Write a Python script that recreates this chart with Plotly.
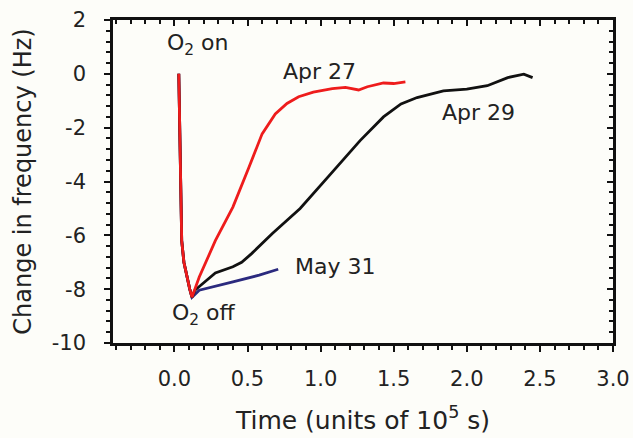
import plotly.graph_objects as go

# Shared initial drop (O2 on -> O2 off), units of 1e5 s and Hz
drop_x = [0.03, 0.035, 0.04, 0.05, 0.065, 0.087, 0.105, 0.12]
drop_y = [0.0, -1.5, -3.2, -6.2, -7.0, -7.6, -8.0, -8.3]

apr27_x = [0.17, 0.28, 0.40, 0.51, 0.60, 0.69, 0.77, 0.85, 0.95, 1.08, 1.17, 1.26, 1.32, 1.43, 1.50, 1.58]
apr27_y = [-7.55, -6.2, -4.95, -3.47, -2.23, -1.49, -1.1, -0.85, -0.68, -0.55, -0.5, -0.6, -0.48, -0.34, -0.36, -0.3]

apr29_x = [0.14, 0.28, 0.40, 0.46, 0.53, 0.67, 0.86, 1.08, 1.27, 1.43, 1.55, 1.66, 1.84, 2.0, 2.14, 2.28, 2.39, 2.45]
apr29_y = [-8.04, -7.4, -7.17, -7.0, -6.67, -5.93, -5.0, -3.65, -2.48, -1.6, -1.12, -0.88, -0.63, -0.57, -0.44, -0.14, -0.01, -0.14]

may31_x = [0.17, 0.40, 0.58, 0.71]
may31_y = [-8.04, -7.73, -7.48, -7.26]

x_range = [-0.42, 3.0]
y_range = [-10, 2]
x_ticks = [0.0, 0.5, 1.0, 1.5, 2.0, 2.5, 3.0]
x_ticklabels = ["0.0", "0.5", "1.0", "1.5", "2.0", "2.5", "3.0"]
y_ticks = [-10, -8, -6, -4, -2, 0, 2]
y_ticklabels = ["-10", "-8", "-6", "-4", "-2", "0", "2"]

labels = [
    ("O<sub>2</sub> on", 0.16, 1.1),
    ("Apr 27", 0.99, 0.07),
    ("Apr 29", 2.08, -1.44),
    ("May 31", 1.10, -7.15),
    ("O<sub>2</sub> off", 0.20, -8.93),
]

FONT = "DejaVu Sans"
BG = "#fdfdf9"

fig = go.Figure()
fig.add_trace(go.Scatter(x=drop_x + may31_x, y=drop_y + may31_y, mode="lines",
                         line=dict(color="#2b2a7e", width=2.8), showlegend=False))
fig.add_trace(go.Scatter(x=drop_x + apr29_x, y=drop_y + apr29_y, mode="lines",
                         line=dict(color="#111111", width=2.8), showlegend=False))
fig.add_trace(go.Scatter(x=drop_x + apr27_x, y=drop_y + apr27_y, mode="lines",
                         line=dict(color="#ee1c1c", width=2.8), showlegend=False))
# helper trace for top/right frame axes
fig.add_trace(go.Scatter(x=[None], y=[None], xaxis="x2", yaxis="y2", showlegend=False))

for text, x, y in labels:
    fig.add_annotation(x=x, y=y, text=text, showarrow=False,
                       font=dict(family=FONT, size=22, color="#222"))

fig.update_layout(
    width=633, height=438,
    margin=dict(l=113, r=20, t=20, b=95),
    paper_bgcolor=BG, plot_bgcolor=BG,
    font=dict(family=FONT, color="#222"),
    xaxis=dict(range=x_range, tickvals=x_ticks, ticktext=x_ticklabels, automargin=False,
               ticklabeloverflow="allow",
               ticks="outside", ticklen=6, tickwidth=2, tickcolor="#111",
               minor=dict(dtick=0.1, tick0=0, ticks="outside", ticklen=4, tickwidth=1.5, tickcolor="#111"),
               showline=True, linewidth=2.5, linecolor="#111", mirror=True,
               showgrid=False, zeroline=False, ticklabelstandoff=9,
               tickfont=dict(family=FONT, size=21, color="#222"),
               title=dict(text="Time (units of 10<sup>5</sup> s)", standoff=22,
                          font=dict(family=FONT, size=25, color="#222"))),
    yaxis=dict(range=y_range, tickvals=y_ticks, ticktext=y_ticklabels, automargin=False,
               ticklabeloverflow="allow",
               ticks="outside", ticklen=6, tickwidth=2, tickcolor="#111",
               minor=dict(dtick=0.4, tick0=0, ticks="outside", ticklen=4, tickwidth=1.5, tickcolor="#111"),
               showline=True, linewidth=2.5, linecolor="#111", mirror=True,
               showgrid=False, zeroline=False, ticklabelstandoff=14,
               tickfont=dict(family=FONT, size=21, color="#222"),
               title=dict(text="Change in frequency (Hz)", standoff=14,
                          font=dict(family=FONT, size=24, color="#222"))),
    xaxis2=dict(range=x_range, overlaying="x", side="top", tickvals=x_ticks, automargin=False,
                showticklabels=False, ticks="inside", ticklen=6, tickwidth=2, tickcolor="#111",
                minor=dict(dtick=0.1, tick0=0, ticks="inside", ticklen=4, tickwidth=1.5, tickcolor="#111"),
                showgrid=False, zeroline=False, showline=False),
    yaxis2=dict(range=y_range, overlaying="y", side="right", tickvals=y_ticks, automargin=False,
                showticklabels=False, ticks="inside", ticklen=6, tickwidth=2, tickcolor="#111",
                minor=dict(dtick=0.4, tick0=0, ticks="inside", ticklen=4, tickwidth=1.5, tickcolor="#111"),
                showgrid=False, zeroline=False, showline=False),
)

fig.write_html("out.html", config={"displayModeBar": False},
               post_script="document.body.style.margin='0px';")
